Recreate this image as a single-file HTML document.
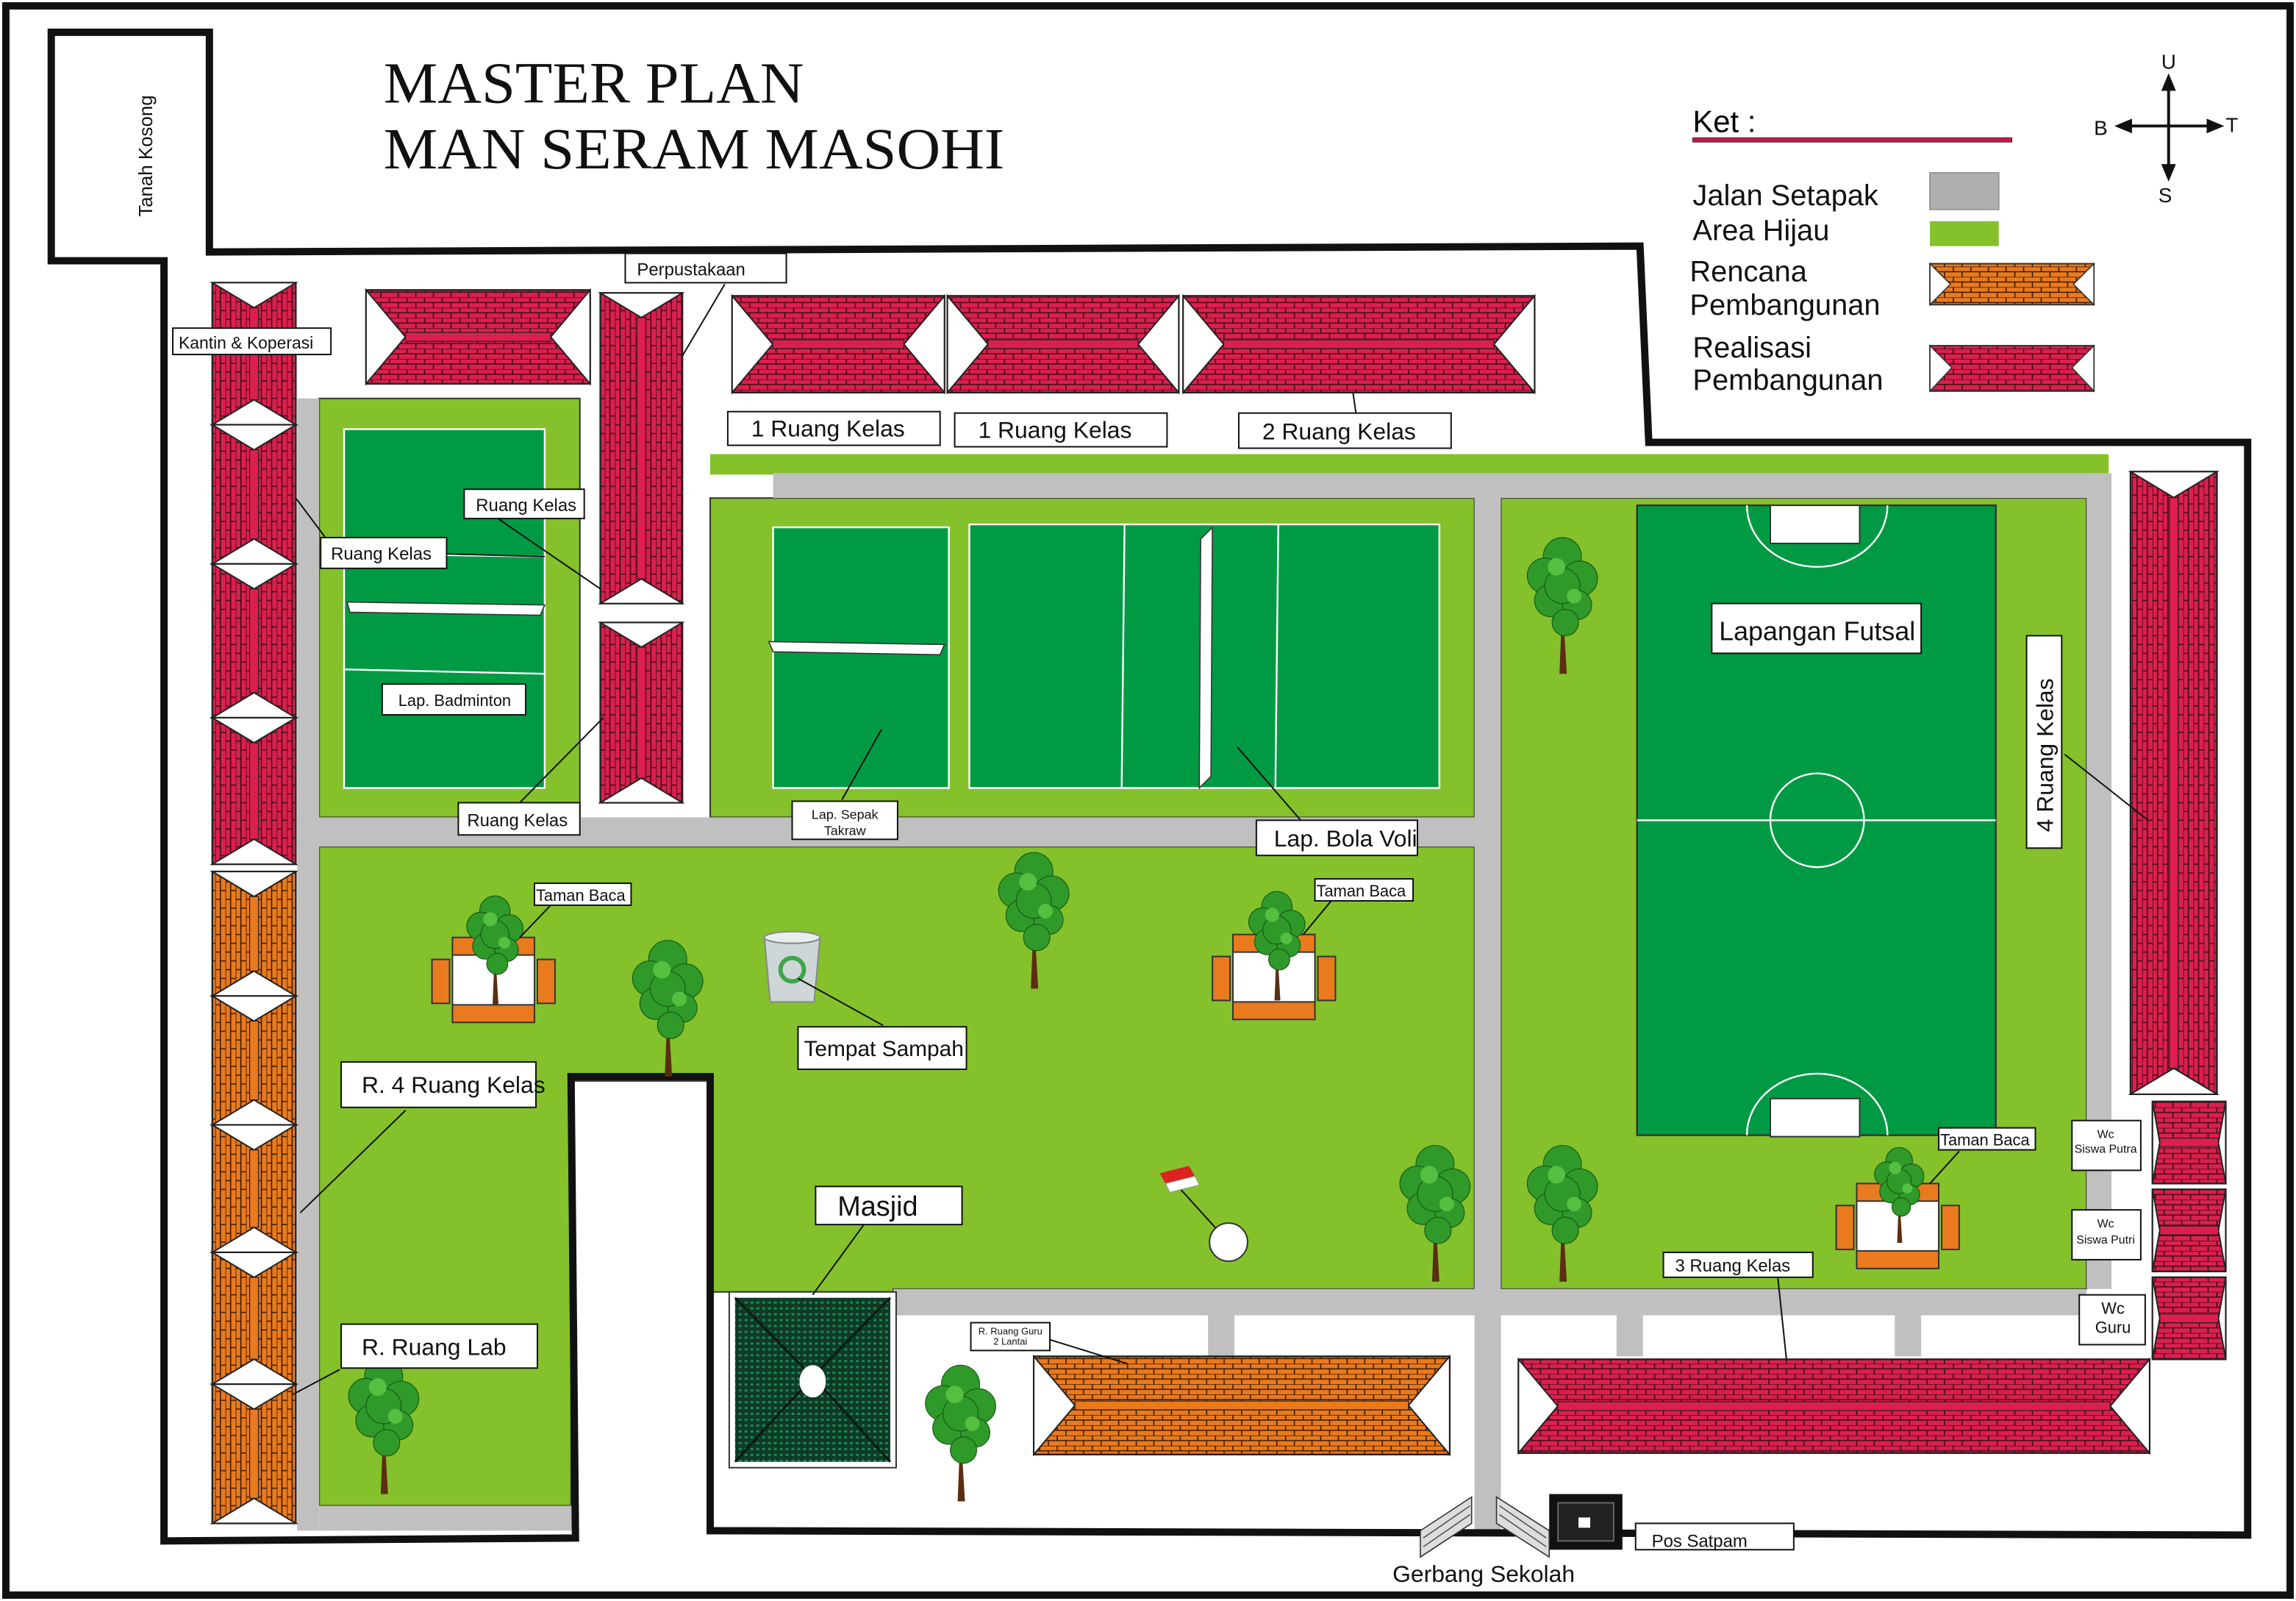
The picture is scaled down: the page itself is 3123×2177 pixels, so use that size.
<!DOCTYPE html>
<html><head><meta charset="utf-8"><style>
html,body{margin:0;padding:0;background:#fff}
svg{display:block}
text{font-family:"Liberation Sans",sans-serif}
</style></head><body>
<svg id="s" xmlns="http://www.w3.org/2000/svg" width="3123" height="2177" viewBox="0 0 1568 1093">
<defs>
<pattern id="br" width="12" height="7" patternUnits="userSpaceOnUse">
<rect width="12" height="7" fill="#dc1f4f"/>
<path d="M0 0H12M0 3.5H12M2 0V3.5M8 3.5V7" stroke="#3a1010" stroke-width="0.8" fill="none"/>
</pattern>
<pattern id="bo" width="12" height="7" patternUnits="userSpaceOnUse">
<rect width="12" height="7" fill="#e97a1e"/>
<path d="M0 0H12M0 3.5H12M2 0V3.5M8 3.5V7" stroke="#3a1a05" stroke-width="0.8" fill="none"/>
</pattern>
<pattern id="brv" width="7" height="12" patternUnits="userSpaceOnUse">
<rect width="7" height="12" fill="#dc1f4f"/>
<path d="M0 0V12M3.5 0V12M0 2H3.5M3.5 8H7" stroke="#3a1010" stroke-width="0.8" fill="none"/>
</pattern>
<pattern id="bov" width="7" height="12" patternUnits="userSpaceOnUse">
<rect width="7" height="12" fill="#e97a1e"/>
<path d="M0 0V12M3.5 0V12M0 2H3.5M3.5 8H7" stroke="#3a1a05" stroke-width="0.8" fill="none"/>
</pattern>
<pattern id="mq" width="4" height="4" patternUnits="userSpaceOnUse">
<rect width="4" height="4" fill="#0f3a26"/><rect x="0.5" y="0.5" width="2" height="1.5" fill="#1a8a55"/>
</pattern>
</defs>
<rect width="1568" height="1093" fill="#fff"/>
<rect x="4" y="4" width="1560" height="1085" fill="none" stroke="#111" stroke-width="5"/>

<rect x="218" y="272" width="178" height="286" fill="#84c12b" stroke="#333" stroke-width="1"/>
<rect x="485" y="310" width="955" height="14" fill="#84c12b"/>
<rect x="485" y="340" width="522" height="218" fill="#84c12b" stroke="#333" stroke-width="1"/>
<path d="M218 578H1007V880H610V882H485V738H390V1028H218Z" fill="#84c12b" stroke="#333" stroke-width="1"/>
<rect x="1025" y="340" width="400" height="540" fill="#84c12b" stroke="#333" stroke-width="1"/>

<g fill="#c0c0c0">
<rect x="203" y="272" width="15" height="773"/>
<rect x="203" y="558" width="807" height="20"/>
<rect x="528" y="323" width="912" height="17"/>
<rect x="1007" y="340" width="18" height="705"/>
<rect x="1425" y="323" width="17" height="557"/>
<rect x="610" y="880" width="815" height="18"/>
<rect x="218" y="1028" width="175" height="17"/>
<rect x="825" y="898" width="18" height="28"/>
<rect x="1104" y="898" width="18" height="28"/>
<rect x="1294" y="898" width="18" height="28"/>
</g>

<g fill="#009a44" stroke="#fff" stroke-width="1.2">
<rect x="235" y="293" width="137" height="245"/>
<rect x="528" y="360" width="120" height="178"/>
<rect x="662" y="358" width="321" height="180"/>
<rect x="1118" y="345" width="245" height="430" stroke="#333"/>
</g>
<g stroke="#fff" stroke-width="1.2" fill="none">
<line x1="235" y1="378" x2="372" y2="380"/><line x1="235" y1="457" x2="372" y2="460"/>
<line x1="768" y1="358" x2="766" y2="538"/><line x1="873" y1="358" x2="871" y2="538"/>
<line x1="1118" y1="560" x2="1363" y2="560"/>
<circle cx="1241" cy="560" r="32"/>
<path d="M1193 345A48 42 0 0 0 1289 345"/>
<path d="M1193 775A48 42 0 0 1 1289 775"/>
</g>
<path d="M237 411L372 413L369 420L239 418Z" fill="#fff" stroke="#333" stroke-width="0.8"/>
<path d="M525 438L645 440L642 447L528 445Z" fill="#fff" stroke="#333" stroke-width="0.8"/>
<path d="M820 368L828 360L827 530L819 538Z" fill="#fff" stroke="#333" stroke-width="0.8"/>
<rect x="1209" y="345" width="61" height="26" fill="#fff" stroke="#333"/>
<rect x="1209" y="750" width="61" height="26" fill="#fff" stroke="#333"/>

<path d="M35 22H143V172L1120 168L1126 302H1535V1048L485 1045V735H390L393 1050L112 1052V178H35Z" fill="none" stroke="#111" stroke-width="5"/>

<g id="roofs"></g>

<rect x="498" y="882" width="114" height="120" fill="#fff" stroke="#333"/>
<rect x="502" y="886" width="106" height="112" fill="url(#mq)"/>
<path d="M502 886L555 940L608 886M502 998L555 940L608 998" stroke="#0a1a10" stroke-width="1.5" fill="none"/>
<ellipse cx="555" cy="943" rx="9" ry="11" fill="#fff"/>

<rect x="1058" y="1020" width="50" height="38" fill="#111"/>
<rect x="1064" y="1026" width="38" height="26" fill="#222" stroke="#666"/>
<rect x="1078" y="1036" width="8" height="7" fill="#fff"/>
<g fill="#ddd" stroke="#333" stroke-width="0.8">
<path d="M970 1045L1005 1022V1040L970 1063Z"/>
<path d="M1022 1022L1058 1045V1063L1022 1040Z"/>
</g>
<g stroke="#555" stroke-width="0.8"><path d="M972 1050L1004 1028M972 1056L1004 1034M1024 1028L1056 1050M1024 1034L1056 1056"/></g>

<g id="tb"></g>
<g id="trees"></g>

<path d="M522 640H560L556 684H526Z" fill="#cfd6d8" stroke="#888"/>
<ellipse cx="541" cy="640" rx="19" ry="4" fill="#e8eeee" stroke="#888"/>
<circle cx="541" cy="662" r="8" fill="none" stroke="#3fa64a" stroke-width="3"/>
<line x1="800" y1="805" x2="838" y2="847" stroke="#111"/>
<circle cx="839" cy="848" r="13" fill="#fff" stroke="#333"/>
<path d="M792 801L812 796L816 803L796 808Z" fill="#d22"/>
<path d="M796 808L816 803L819 809L799 814Z" fill="#fff" stroke="#999" stroke-width="0.5"/>

<g stroke="#111" stroke-width="1" fill="none">
<path d="M495 194L466 243"/><path d="M202 340L223 368"/><path d="M300 378L372 380"/>
<path d="M340 354L410 402"/><path d="M355 548L412 490"/><path d="M575 546L602 498"/>
<path d="M890 562L845 510"/><path d="M924 268L926 282"/>
<path d="M1410 515L1467 560"/><path d="M378 616L355 640"/><path d="M910 614L890 638"/>
<path d="M545 668L603 700"/><path d="M1338 786L1318 808"/><path d="M1214 871L1220 928"/>
<path d="M277 758L205 828"/><path d="M232 935L200 952"/><path d="M590 836L555 884"/>
<path d="M715 914L770 931"/>
</g>

<g fill="#fff" stroke="#111" stroke-width="1">
<rect x="427" y="173" width="110" height="20"/>
<rect x="118" y="224" width="108" height="18"/>
<rect x="497" y="281" width="145" height="23"/>
<rect x="652" y="282" width="145" height="23"/>
<rect x="846" y="282" width="145" height="24"/>
<rect x="317" y="334" width="82" height="20"/>
<rect x="219" y="367" width="86" height="21"/>
<rect x="261" y="467" width="98" height="21"/>
<rect x="313" y="548" width="83" height="22"/>
<rect x="541" y="547" width="72" height="26"/>
<rect x="858" y="560" width="110" height="24"/>
<rect x="1169" y="412" width="143" height="34"/>
<rect x="1384" y="434" width="24" height="145"/>
<rect x="365" y="603" width="66" height="15"/>
<rect x="898" y="600" width="67" height="15"/>
<rect x="545" y="701" width="115" height="29"/>
<rect x="233" y="725" width="133" height="31"/>
<rect x="1324" y="770" width="66" height="15"/>
<rect x="1415" y="765" width="47" height="34"/>
<rect x="1415" y="826" width="47" height="34"/>
<rect x="1420" y="884" width="45" height="34"/>
<rect x="1136" y="855" width="102" height="17"/>
<rect x="557" y="810" width="100" height="26"/>
<rect x="233" y="904" width="134" height="30"/>
<rect x="663" y="903" width="54" height="19"/>
<rect x="1117" y="1040" width="108" height="18"/>
</g>
<g fill="#111" font-size="12">
<text x="435" y="188">Perpustakaan</text>
<text x="122" y="238" font-size="11.5">Kantin &amp; Koperasi</text>
<text x="513" y="298" font-size="16">1 Ruang Kelas</text>
<text x="668" y="299" font-size="16">1 Ruang Kelas</text>
<text x="862" y="300" font-size="16">2 Ruang Kelas</text>
<text x="325" y="349">Ruang Kelas</text>
<text x="226" y="382">Ruang Kelas</text>
<text x="272" y="482" font-size="11">Lap. Badminton</text>
<text x="319" y="564">Ruang Kelas</text>
<text x="577" y="559" font-size="9" text-anchor="middle">Lap. Sepak</text>
<text x="577" y="570" font-size="9" text-anchor="middle">Takraw</text>
<text x="870" y="578" font-size="16">Lap. Bola Voli</text>
<text x="1241" y="437" font-size="18" text-anchor="middle">Lapangan Futsal</text>
<text transform="translate(1402,568) rotate(-90)" font-size="16">4 Ruang Kelas</text>
<text x="366" y="615" font-size="11">Taman Baca</text>
<text x="899" y="612" font-size="11">Taman Baca</text>
<text x="549" y="721" font-size="15">Tempat Sampah</text>
<text x="247" y="746" font-size="16">R. 4 Ruang Kelas</text>
<text x="1325" y="782" font-size="11">Taman Baca</text>
<text x="1438" y="777" font-size="8" text-anchor="middle">Wc</text>
<text x="1438" y="787" font-size="8" text-anchor="middle">Siswa Putra</text>
<text x="1438" y="838" font-size="8" text-anchor="middle">Wc</text>
<text x="1438" y="849" font-size="8" text-anchor="middle">Siswa Putri</text>
<text x="1443" y="897" font-size="11" text-anchor="middle">Wc</text>
<text x="1443" y="910" font-size="11" text-anchor="middle">Guru</text>
<text x="1144" y="868">3 Ruang Kelas</text>
<text x="572" y="830" font-size="19">Masjid</text>
<text x="247" y="925" font-size="16">R. Ruang Lab</text>
<text x="690" y="911" font-size="6.5" text-anchor="middle">R. Ruang Guru</text>
<text x="690" y="918" font-size="6.5" text-anchor="middle">2 Lantai</text>
<text x="1128" y="1056">Pos Satpam</text>
<text x="951" y="1080" font-size="16">Gerbang Sekolah</text>
<text transform="translate(104,148) rotate(-90)" font-size="13">Tanah Kosong</text>
</g>

<text x="262" y="70" font-size="40" fill="#111" textLength="287" lengthAdjust="spacingAndGlyphs" style="font-family:'Liberation Serif',serif">MASTER PLAN</text>
<text x="262" y="115" font-size="40" fill="#111" textLength="424" lengthAdjust="spacingAndGlyphs" style="font-family:'Liberation Serif',serif">MAN SERAM MASOHI</text>

<text x="1156" y="90" font-size="21">Ket :</text>
<rect x="1156" y="94" width="218" height="3" fill="#c8174a" stroke="#333" stroke-width="0.5"/>
<g font-size="20" fill="#111">
<text x="1156" y="140">Jalan Setapak</text>
<text x="1156" y="164">Area Hijau</text>
<text x="1154" y="192">Rencana</text>
<text x="1154" y="215">Pembangunan</text>
<text x="1156" y="244">Realisasi</text>
<text x="1156" y="266">Pembangunan</text>
</g>
<rect x="1318" y="118" width="47" height="25" fill="#b0b0b0" stroke="#999"/>
<rect x="1318" y="151" width="47" height="17" fill="#84c12b"/>

<g stroke="#111" stroke-width="2" fill="#111">
<line x1="1481" y1="55" x2="1481" y2="120"/><line x1="1448" y1="86" x2="1515" y2="86"/>
<path d="M1481 50l-5 12h10z M1481 124l-5-12h10z M1444 86l12-5v10z M1519 86l-12-5v10z" stroke="none"/>
</g>
<g font-size="14" fill="#111"><text x="1476" y="47">U</text><text x="1474" y="138">S</text><text x="1430" y="92">B</text><text x="1520" y="90">T</text></g>

<script>
(function(){
var NS="http://www.w3.org/2000/svg",R=document.getElementById('roofs');
function el(t,a,p){var e=document.createElementNS(NS,t);for(var k in a)e.setAttribute(k,a[k]);(p||R).appendChild(e);return e;}
function roofH(x,y,w,h,c,dd){var d=dd!==undefined?dd:h*0.42;
 el('rect',{x:x,y:y,width:w,height:h,fill:c=='o'?'url(#bo)':'url(#br)',stroke:'#222','stroke-width':1.2});
 if(d>0)el('path',{d:'M'+x+' '+y+'L'+(x+d)+' '+(y+h/2)+'L'+x+' '+(y+h)+'ZM'+(x+w)+' '+y+'L'+(x+w-d)+' '+(y+h/2)+'L'+(x+w)+' '+(y+h)+'Z',fill:'#fff',stroke:'#222','stroke-width':1});
 el('rect',{x:x+d,y:y+h/2-3,width:w-2*d,height:6,fill:c=='o'?'#e97a1e':'#dc1f4f',stroke:'#222','stroke-width':0.6});}
function roofV(x,y,w,h,c){var d=w*0.3;
 el('rect',{x:x,y:y,width:w,height:h,fill:c=='o'?'url(#bov)':'url(#brv)',stroke:'#222','stroke-width':1.2});
 el('path',{d:'M'+x+' '+y+'L'+(x+w/2)+' '+(y+d)+'L'+(x+w)+' '+y+'ZM'+x+' '+(y+h)+'L'+(x+w/2)+' '+(y+h-d)+'L'+(x+w)+' '+(y+h)+'Z',fill:'#fff',stroke:'#222','stroke-width':1});
 el('rect',{x:x+w/2-3,y:y+d,width:6,height:h-2*d,fill:c=='o'?'#e97a1e':'#dc1f4f',stroke:'#222','stroke-width':0.6});}
roofH(250,198,153,64);roofV(410,200,56,212);roofV(410,425,56,123);
roofH(500,202,145,66);roofH(647,202,158,66);roofH(808,202,240,66);
roofV(1455,322,59,425);
roofH(1470,752,50,56,'',5);roofH(1470,812,50,56,'',5);roofH(1470,872,50,56,'',5);
roofH(1037,928,431,64);roofH(706,926,284,67,'o');
var segs=[[193,290,''],[290,385,''],[385,490,''],[490,590,''],[595,680,'o'],[680,768,'o'],[768,855,'o'],[855,945,'o'],[945,1040,'o']];
segs.forEach(function(s){roofV(145,s[0],57,s[1]-s[0],s[2]);});
var T=document.getElementById('tb');
[[295,640],[828,638],[1254,808]].forEach(function(p){var x=p[0],y=p[1];
 el('rect',{x:x,y:y+15,width:12,height:30,fill:'#e97a1e',stroke:'#333'},T);
 el('rect',{x:x+72,y:y+15,width:12,height:30,fill:'#e97a1e',stroke:'#333'},T);
 el('rect',{x:x+14,y:y,width:56,height:58,fill:'#e97a1e',stroke:'#333'},T);
 el('rect',{x:x+14,y:y+12,width:56,height:34,fill:'#fff',stroke:'#333'},T);});
var G=document.getElementById('trees');
[[338,650,0.8],[456,690,1],[706,630,1],[872,647,0.8],[1067,415,1],[980,830,1],[1067,830,1],[1297,817,0.7],[262,975,1],[656,980,1]].forEach(function(t){var x=t[0],y=t[1],s=t[2];
 el('path',{d:'M'+(x-2*s)+' '+(y+45*s)+'L'+x+' '+(y-5*s)+'L'+(x+3*s)+' '+(y+45*s)+'Z',fill:'#5a2e10'},G);
 [[0,-35,13],[-12,-22,12],[12,-20,12],[-8,-5,11],[10,-2,10],[0,-15,12],[2,10,9]].forEach(function(c){
  el('circle',{cx:x+c[0]*s,cy:y+c[1]*s,r:c[2]*s,fill:'#2f9a2a',stroke:'#1a5a15','stroke-width':0.6},G);});
 el('circle',{cx:x-4*s,cy:y-28*s,r:6*s,fill:'#55c040'},G);el('circle',{cx:x+8*s,cy:y-8*s,r:5*s,fill:'#55c040'},G);});
})();
</script>
<g>
<rect x="1318" y="180" width="112" height="28" fill="url(#bo)" stroke="#333"/>
<path d="M1318 180L1332 194L1318 208ZM1430 180L1416 194L1430 208Z" fill="#fff" stroke="#333" stroke-width="0.8"/>
<rect x="1318" y="236" width="112" height="31" fill="url(#br)" stroke="#333"/>
<path d="M1318 236L1333 251L1318 267ZM1430 236L1415 251L1430 267Z" fill="#fff" stroke="#333" stroke-width="0.8"/>
</g>
</svg>
</body></html>
